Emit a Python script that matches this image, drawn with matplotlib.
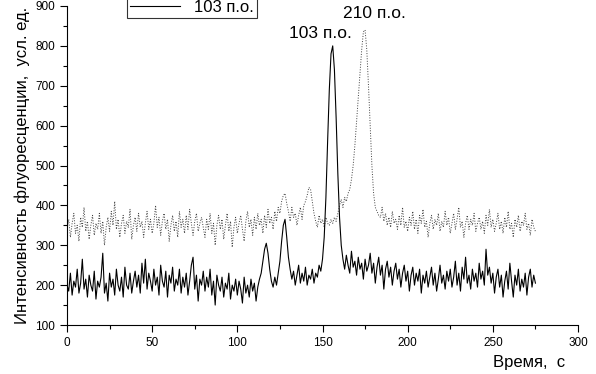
import numpy as np
import matplotlib
matplotlib.use("Agg")
import matplotlib.pyplot as plt
from matplotlib.ticker import MultipleLocator

plt.rcParams["font.family"] = ["Liberation Sans", "DejaVu Sans"]

# ---- data (1 s step, 0..275 s) ----
time_s = np.arange(0, 276)

# 103 bp fragment, solid trace
trace_103 = [
    200, 185, 230, 175, 210, 195, 240, 180, 205, 265,
    190, 215, 170, 225, 200, 185, 235, 165, 210, 195,
    220, 280, 180, 205, 160, 230, 195, 215, 175, 240,
    200, 185, 220, 170, 245, 200, 190, 230, 180, 210,
    235, 195, 225, 180, 255, 205, 265, 190, 230, 210,
    185, 240, 200, 220, 175, 250, 210, 195, 235, 170,
    225, 205, 245, 185, 215, 200, 240, 180, 220, 195,
    230, 175, 210, 250, 270, 190, 225, 160, 215, 200,
    235, 185, 220, 195, 240, 175, 210, 150, 225, 200,
    185, 220, 170, 205, 190, 230, 165, 200, 185, 215,
    175, 210, 190, 155, 220, 180, 200, 170, 215, 185,
    205, 160, 195, 215, 230, 260, 290, 305, 280, 240,
    210, 195, 220, 200, 230, 260, 310, 350, 365, 320,
    270, 240, 215, 235, 200, 225, 250, 205, 230, 210,
    245, 200, 225, 215, 240, 205, 230, 220, 250, 235,
    265, 320, 420, 560, 690, 780, 800, 740, 620, 480,
    370, 300, 265, 240, 275, 250, 230, 285, 245, 260,
    225, 270, 240, 255, 215, 265, 235, 250, 280, 230,
    255, 205, 245, 270, 225, 250, 190, 240, 260, 220,
    245, 200, 235, 255, 215, 240, 195, 230, 250, 210,
    235, 185, 225, 245, 200, 230, 210, 240, 180, 225,
    205, 235, 195, 220, 245, 200, 230, 185, 215, 250,
    205, 225, 190, 235, 210, 240, 195, 220, 260, 200,
    230, 185, 245, 215, 270, 205, 225, 190, 240, 210,
    230, 195, 255, 215, 235, 200, 290, 225, 245, 205,
    230, 180, 220, 240, 195, 225, 170, 210, 235, 190,
    255, 210, 170, 225, 200, 240, 185, 215, 195, 230,
    175, 220, 240, 195, 225, 205,
]

# 210 bp fragment, dotted trace
trace_210 = [
    340, 365, 320, 355, 380, 330, 350, 310, 370, 345,
    395, 335, 360, 315, 350, 375, 325, 355, 340, 380,
    330, 360, 300, 345, 370, 335, 385, 350, 410, 340,
    365, 320, 355, 375, 330, 360, 345, 390, 315, 350,
    370, 335, 380, 345, 360, 320, 355, 385, 340, 365,
    330, 355, 400, 345, 370, 325, 360, 380, 340, 365,
    310, 350, 375, 335, 360, 320, 385, 345, 365, 330,
    375, 340, 390, 355, 325, 360, 380, 335, 355, 370,
    345, 320, 365, 340, 380, 330, 355, 300, 350, 375,
    340, 365, 315, 350, 380, 335, 360, 295, 345, 370,
    330, 355, 375, 340, 310, 360, 385, 345, 365, 325,
    370, 340, 380, 350, 365, 330, 375, 345, 390, 355,
    370, 340, 385, 360, 395, 380, 410, 425, 430, 405,
    385, 360, 395, 370, 380, 350, 375, 395, 365, 400,
    410, 425, 445, 440, 410, 380, 360, 345, 375, 355,
    365, 345, 370, 355, 350, 365, 355, 370, 360, 380,
    400, 415, 395, 420, 410, 430, 440, 465, 500, 550,
    610, 670, 730, 790, 835, 840, 790, 700, 600, 500,
    430, 395, 385, 375, 370, 395, 360, 380, 350, 370,
    345, 385, 355, 365, 340, 375, 350, 395, 345, 360,
    335, 370, 350, 385, 340, 365, 330, 375, 355, 390,
    345, 360, 320, 355, 375, 340, 365, 350, 380, 335,
    360, 345, 385, 350, 370, 330, 355, 380, 340, 365,
    395, 345, 360, 320, 355, 375, 340, 365, 350, 380,
    335, 355, 370, 340, 360, 330, 375, 350, 390, 345,
    365, 335, 355, 380, 340, 360, 330, 370, 345, 385,
    340, 355, 320, 365, 345, 375, 335, 360, 350, 380,
    340, 355, 325, 365, 345, 335,
]

fig = plt.figure(figsize=(5.96, 3.74), dpi=100)
ax = fig.add_axes([67 / 596, 1 - 325 / 374, (578 - 67) / 596, (325 - 6) / 374])

l210, = ax.plot(time_s, trace_210, color="0.25", lw=0.7, ls=":", label="210 п.о.")
l103, = ax.plot(time_s, trace_103, color="black", lw=0.8, label="103 п.о.")

ax.set_xlim(0, 300)
ax.set_ylim(100, 900)
ax.xaxis.set_major_locator(MultipleLocator(50))
ax.xaxis.set_minor_locator(MultipleLocator(25))
ax.yaxis.set_major_locator(MultipleLocator(100))
ax.yaxis.set_minor_locator(MultipleLocator(50))
for s in ("top", "right"):
    ax.spines[s].set_visible(False)
ax.tick_params(which="major", direction="out", length=5, width=0.8, labelsize=8.5)
ax.tick_params(which="minor", direction="out", length=3, width=0.8)

ax.set_ylabel("Интенсивность флуоресценции,  усл. ед.", fontsize=12, labelpad=4)
fig.text(565 / 596, 1 - 363 / 374, "Время,  с", fontsize=12, ha="right", va="center")

# peak labels
ax.text(149, 832, "103 п.о.", fontsize=12.5, ha="center", va="center")
ax.text(180.5, 880, "210 п.о.", fontsize=12.5, ha="center", va="center")

leg = ax.legend(handles=[l210, l103], loc="lower left",
                bbox_to_anchor=(127 / 596, 1 - 18 / 374),
                bbox_transform=fig.transFigure, fontsize=12,
                frameon=True, fancybox=False, handlelength=3.0,
                handletextpad=0.8, borderpad=0.2, labelspacing=0.2,
                borderaxespad=0)
leg.get_frame().set_edgecolor("black")
leg.get_frame().set_linewidth(0.8)

fig.savefig("out.png", dpi=100)
